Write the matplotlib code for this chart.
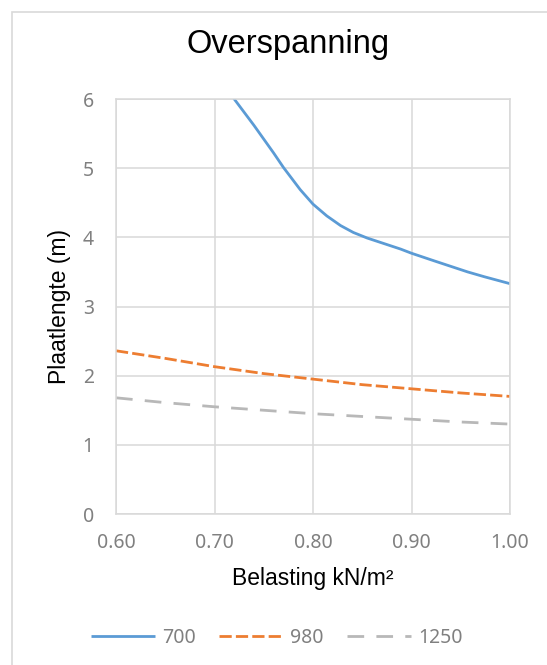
import matplotlib
matplotlib.use("Agg")
import matplotlib.pyplot as plt
from matplotlib.patches import Rectangle

# belasting (kN/m2) vs plaatlengte (m)
x_700 = [0.70, 0.72, 0.74, 0.76, 0.77, 0.787, 0.80, 0.814, 0.828, 0.841,
         0.855, 0.872, 0.889, 0.90, 0.923, 0.940, 0.957, 0.974, 1.00]
y_700 = [6.40, 6.00, 5.62, 5.22, 5.01, 4.69, 4.48, 4.31, 4.17, 4.07,
         3.99, 3.91, 3.83, 3.77, 3.66, 3.58, 3.50, 3.43, 3.33]

x_steps = [0.60, 0.65, 0.70, 0.75, 0.80, 0.85, 0.90, 0.95, 1.00]
y_980 = [2.36, 2.25, 2.13, 2.03, 1.95, 1.87, 1.81, 1.75, 1.70]
y_1250 = [1.68, 1.61, 1.55, 1.50, 1.45, 1.41, 1.37, 1.33, 1.30]

x_ticks = [0.60, 0.70, 0.80, 0.90, 1.00]
y_ticks = [0, 1, 2, 3, 4, 5, 6]

grid_col = "#d9d9d9"
tick_col = "#808080"
font = "Liberation Sans"
tick_font = "Noto Sans"

fig = plt.figure(figsize=(5.47, 6.65), dpi=100)
fig.patch.set_facecolor("white")

# chart area border (only top/left visible in the picture)
fig.add_artist(Rectangle((12 / 547, -0.2), 1.2, 1.2 - 12 / 665,
                         transform=fig.transFigure, fill=False,
                         edgecolor=grid_col, linewidth=1.2))

ax = fig.add_axes([116 / 547, 1 - 514 / 665, (510 - 116) / 547, (514 - 99) / 665])

ax.plot(x_700, y_700, color="#5b9bd5", linewidth=2.0, label="700",
        solid_capstyle="butt", solid_joinstyle="round")
ax.plot(x_steps, y_980, color="#ed7d31", linewidth=2.0, label="980",
        linestyle=(0, (4.4, 1.5)), dash_capstyle="butt")
ax.plot(x_steps, y_1250, color="#b8b8b8", linewidth=2.0, label="1250",
        linestyle=(0, (6.0, 4.4)), dash_capstyle="butt")

ax.set_xlim(0.60, 1.00)
ax.set_ylim(0, 6)
ax.set_xticks(x_ticks)
ax.set_xticklabels(["%.2f" % v for v in x_ticks])
ax.set_yticks(y_ticks)
ax.grid(True, color=grid_col, linewidth=1.1)
ax.set_axisbelow(True)
for s in ax.spines.values():
    s.set_color(grid_col)
    s.set_linewidth(1.1)
ax.tick_params(length=0, colors=tick_col, labelsize=14)
ax.tick_params(axis="x", pad=14)
ax.tick_params(axis="y", pad=16)
for lbl in ax.get_xticklabels() + ax.get_yticklabels():
    lbl.set_fontfamily(tick_font)

fig.text(288 / 547, 1 - 45 / 665, "Overspanning", ha="center", va="center",
         fontsize=23.5, family=font, color="black")
ax.set_xlabel("Belasting kN/m²", fontsize=16.5, family=font, color="black",
              labelpad=10)
ax.set_ylabel("Plaatlengte (m)", fontsize=16.5, family=font, color="black",
              labelpad=8)

leg = fig.legend(loc="center", bbox_to_anchor=(277 / 547, 1 - 638 / 665),
                 ncol=3, frameon=False, handlelength=3.3, columnspacing=1.2,
                 handletextpad=0.35, prop={"family": tick_font, "size": 14})
for t in leg.get_texts():
    t.set_color(tick_col)

fig.savefig("out.png", dpi=100)
